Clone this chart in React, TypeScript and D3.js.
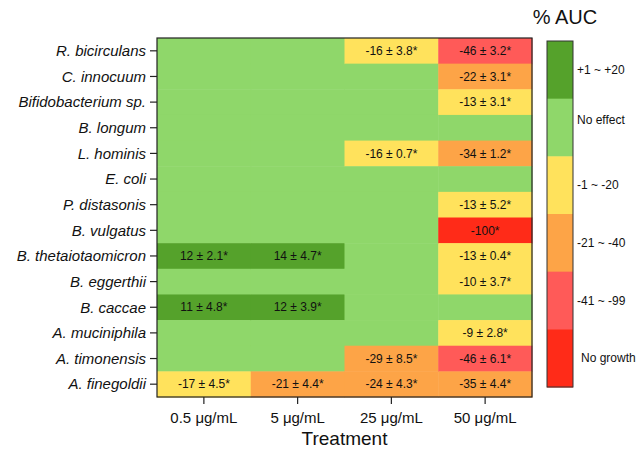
import React from "react";
import * as d3 from "d3";

const species = [
  "R. bicirculans", "C. innocuum", "Bifidobacterium sp.", "B. longum", "L. hominis",
  "E. coli", "P. distasonis", "B. vulgatus", "B. thetaiotaomicron", "B. eggerthii",
  "B. caccae", "A. muciniphila", "A. timonensis", "A. finegoldii",
];
const treatments = ["0.5 μg/mL", "5 μg/mL", "25 μg/mL", "50 μg/mL"];

// mean % AUC change per treatment (null = no effect)
const mean05 = [null, null, null, null, null, null, null, null, 12, null, 11, null, null, -17];
const sd05 = [null, null, null, null, null, null, null, null, 2.1, null, 4.8, null, null, 4.5];
const mean5 = [null, null, null, null, null, null, null, null, 14, null, 12, null, null, -21];
const sd5 = [null, null, null, null, null, null, null, null, 4.7, null, 3.9, null, null, 4.4];
const mean25 = [-16, null, null, null, -16, null, null, null, null, null, null, null, -29, -24];
const sd25 = [3.8, null, null, null, 0.7, null, null, null, null, null, null, null, 8.5, 4.3];
const mean50 = [-46, -22, -13, null, -34, null, -13, -100, -13, -10, null, -9, -46, -35];
const sd50 = [3.2, 3.1, 3.1, null, 1.2, null, 5.2, null, 0.4, 3.7, null, 2.8, 6.1, 4.4];

const legendLabels = ["+1 ~ +20", "No effect", "-1 ~ -20", "-21 ~ -40", "-41 ~ -99", "No growth"];
const legendColors = ["#55a22b", "#8fd76a", "#ffe25c", "#fda447", "#ff5a58", "#ff2b18"];

const means = [mean05, mean5, mean25, mean50];
const sds = [sd05, sd5, sd25, sd50];

function category(m: number | null): number {
  if (m === null) return 1;
  if (m > 0) return 0;
  if (m >= -20) return 2;
  if (m >= -40) return 3;
  if (m > -100) return 4;
  return 5;
}

function label(m: number | null, s: number | null): string {
  if (m === null) return "";
  if (s === null) return `${m}*`;
  return `${m} ± ${s.toFixed(1)}*`;
}

export default function App() {
  const W = 644, H = 450;
  const left = 157, right = 532, top = 38, bottom = 397;
  const font = "Liberation Sans, Arial, sans-serif";

  const x = d3.scaleBand<string>().domain(treatments).range([left, right]);
  const y = d3.scaleBand<string>().domain(species).range([top, bottom]);

  const cbTop = 41, cbBottom = 387, cbLeft = 547, cbRight = 573;
  const cy = d3.scaleBand<string>().domain(legendLabels).range([cbTop, cbBottom]);

  const cells: React.ReactNode[] = [];
  treatments.forEach((t, ci) => {
    species.forEach((sp, ri) => {
      const m = means[ci][ri];
      const s = sds[ci][ri];
      const c = category(m);
      cells.push(
        <rect key={`r${ci}-${ri}`} x={x(t)!} y={y(sp)!} width={x.bandwidth() + 0.5} height={y.bandwidth() + 0.5}
          fill={legendColors[c]} />
      );
      const txt = label(m, s);
      if (txt) {
        cells.push(
          <text key={`t${ci}-${ri}`} x={x(t)! + x.bandwidth() / 2} y={y(sp)! + y.bandwidth() / 2}
            dy="0.35em" textAnchor="middle" fontSize={12} fill="#111" fontFamily={font}>{txt}</text>
        );
      }
    });
  });

  return (
    <svg width={W} height={H} style={{ position: "absolute", left: 0, top: 0, background: "#fff" }}>
      {cells}
      <rect x={left} y={top} width={right - left} height={bottom - top} fill="none" stroke="#222" strokeWidth={1.2} />
      {species.map((sp) => (
        <g key={sp}>
          <line x1={left - 7} x2={left} y1={y(sp)! + y.bandwidth() / 2} y2={y(sp)! + y.bandwidth() / 2} stroke="#222" strokeWidth={1.2} />
          <text x={left - 11} y={y(sp)! + y.bandwidth() / 2} dy="0.35em" textAnchor="end" fontStyle="italic"
            fontSize={15} fill="#111" fontFamily={font}>{sp}</text>
        </g>
      ))}
      {treatments.map((t) => (
        <g key={t}>
          <line x1={x(t)! + x.bandwidth() / 2} x2={x(t)! + x.bandwidth() / 2} y1={bottom} y2={bottom + 7} stroke="#222" strokeWidth={1.2} />
          <text x={x(t)! + x.bandwidth() / 2} y={bottom + 26} textAnchor="middle" fontSize={15} fill="#111" fontFamily={font}>{t}</text>
        </g>
      ))}
      <text x={(left + right) / 2} y={445} textAnchor="middle" fontSize={19} fill="#111" fontFamily={font}>Treatment</text>

      <text x={565} y={24} textAnchor="middle" fontSize={20} fill="#111" fontFamily={font}>% AUC</text>
      {legendLabels.map((l, i) => (
        <g key={l}>
          <rect x={cbLeft} y={cy(l)!} width={cbRight - cbLeft} height={cy.bandwidth() + 0.5} fill={legendColors[i]} />
          <text x={i === 5 ? cbRight + 8 : cbRight + 4} y={cy(l)! + cy.bandwidth() / 2 - (i === 1 ? 8 : 0)} dy="0.35em" fontSize={12}
            fill="#111" fontFamily={font}>{l}</text>
        </g>
      ))}
      <rect x={cbLeft} y={cbTop} width={cbRight - cbLeft} height={cbBottom - cbTop} fill="none" stroke="#333" strokeWidth={1} />
    </svg>
  );
}
